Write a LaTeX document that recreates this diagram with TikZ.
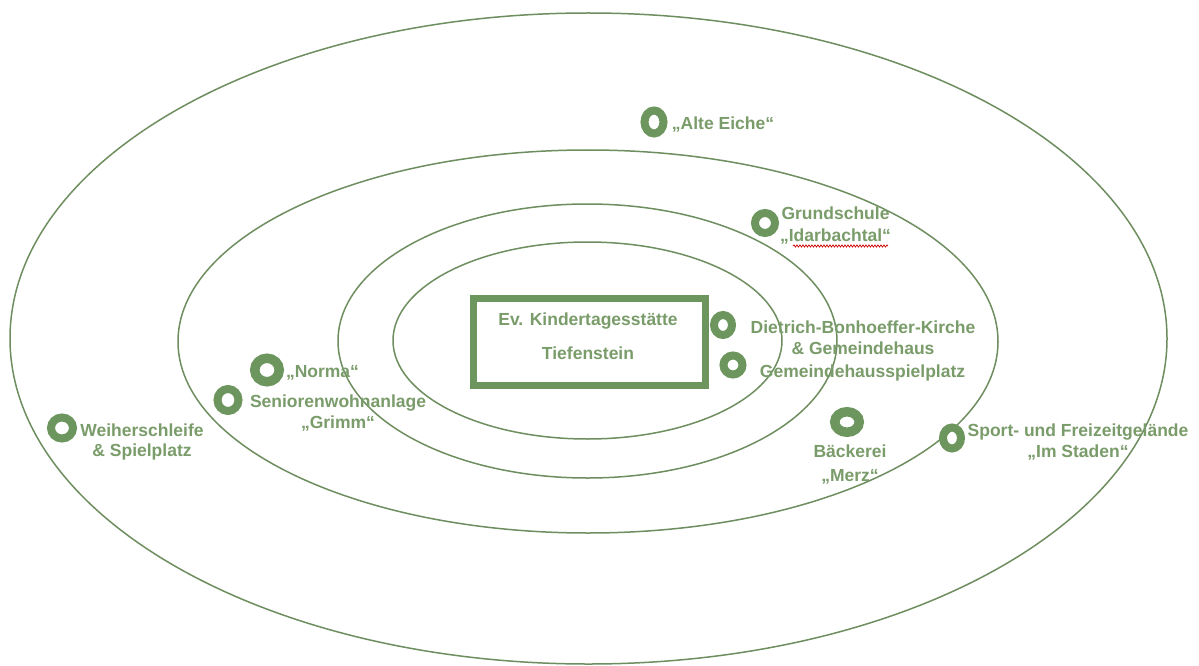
\documentclass[tikz,border=0pt]{standalone}
\usepackage{fontspec}
\setmainfont{Liberation Sans}
\usetikzlibrary{shapes.geometric,decorations.pathmorphing}
\definecolor{ringgreen}{RGB}{108,150,94}
\definecolor{txtgreen}{RGB}{122,156,106}
\definecolor{linegreen}{RGB}{110,142,96}
\begin{document}
\begin{tikzpicture}[x=1pt,y=-1pt,
  ell/.style={draw=linegreen, line width=1.5pt},
  ring/.style={ellipse, draw=ringgreen, line width=#1, inner sep=0pt},
  ring/.default=8pt,
  lbl/.style={text=txtgreen, font=\bfseries\fontsize{17.5}{21}\selectfont, align=center, inner sep=0pt},
  kitabox/.style={draw=ringgreen, line width=7pt, inner sep=0pt},
  spell/.style={draw=red!80!black, line width=0.7pt, decorate, decoration={snake, amplitude=1.1pt, segment length=3pt}}]
\fill[white] (0,0) rectangle (1199,666);
\useasboundingbox (0,0) rectangle (1199,666);
% ellipses
\draw[ell] (588.5,338.5) ellipse [x radius=578.5pt, y radius=325.5pt];
\draw[ell] (588,341.5) ellipse [x radius=410pt, y radius=191.5pt];
\draw[ell] (587.5,341) ellipse [x radius=249.5pt, y radius=137pt];
\draw[ell] (587.5,340.5) ellipse [x radius=194.5pt, y radius=98.5pt];
% centre box
\node[kitabox, minimum width=232.5pt, minimum height=87pt] (kita) at (589.25,342) {};
\node[lbl, font=\bfseries\fontsize{17.5}{34}\selectfont] (kitatext) at (588,336) {Ev. Kindertagesstätte\\Tiefenstein};
% rings
\node[ring, minimum width=19pt, minimum height=23pt] (eiche) at (654,122) {};
\node[ring, minimum width=20pt, minimum height=20pt] (schule) at (765,223) {};
\node[ring, minimum width=18pt, minimum height=20pt] (kirche) at (723,325) {};
\node[ring, minimum width=19pt, minimum height=19pt] (spiel) at (733,365) {};
\node[ring=9.5pt, minimum width=24.5pt, minimum height=23.5pt] (norma) at (267,370) {};
\node[ring, minimum width=21pt, minimum height=22pt] (senioren) at (228,400) {};
\node[ring, minimum width=22pt, minimum height=21pt] (weiher) at (62,428) {};
\node[ring=9.5pt, minimum width=24.5pt, minimum height=20.5pt] (baecker) at (847,422) {};
\node[ring, minimum width=18pt, minimum height=21pt] (sport) at (952,438) {};
% labels
\node[lbl] (teiche) at (723,125) {„Alte Eiche“};
\node[lbl, font=\bfseries\fontsize{17.5}{22}\selectfont] (tschule) at (835.5,226) {Grundschule\\„Idarbachtal“};
\coordinate (sq1) at (793,246);
\coordinate (sq2) at (888,246);
\draw[spell] (sq1) -- (sq2);
\node[lbl] (tkirche) at (863,337.5) {Dietrich-Bonhoeffer-Kirche\\\& Gemeindehaus};
\node[lbl] (tspiel) at (862.5,373) {Gemeindehausspielplatz};
\node[lbl] (tnorma) at (322.5,373) {„Norma“};
\node[lbl, font=\bfseries\fontsize{17.5}{20.5}\selectfont] (tsenioren) at (338,413) {Seniorenwohnanlage\\„Grimm“};
\node[lbl, font=\bfseries\fontsize{17.5}{20.5}\selectfont] (tweiher) at (142,442) {Weiherschleife\\\& Spielplatz};
\node[lbl, font=\bfseries\fontsize{17.5}{24}\selectfont] (tbaecker) at (850,465) {Bäckerei\\„Merz“};
\node[lbl] (tsport) at (1078,442.5) {Sport- und Freizeitgelände\\„Im Staden“};
\end{tikzpicture}
\end{document}
